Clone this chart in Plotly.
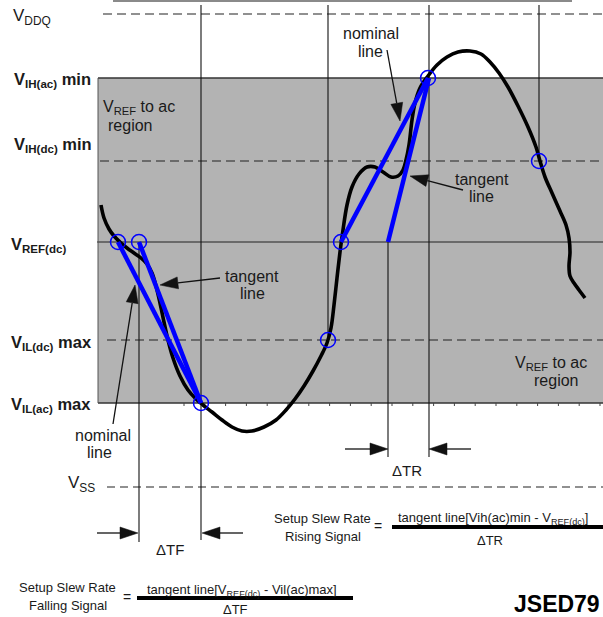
import math
import plotly.graph_objects as go

# ---- voltage levels (screen-space axis, top = 0) ----
V_DDQ = 14
V_IH_AC = 78
V_IH_DC = 161
V_REF = 242
V_IL_DC = 340
V_IL_AC = 403
V_SS = 487

# ---- input waveform (time, voltage) ----
wave_t = [101, 104, 109, 114, 120, 127, 134, 141, 147, 152, 156, 160, 164, 168, 173,
          180, 188, 196, 203, 212, 222, 232, 242, 252, 264, 276, 286, 295, 304, 313,
          321, 327, 331, 334, 337, 340, 343, 347, 352, 359, 367, 375, 383, 391, 398,
          403, 406, 409, 412, 415, 420, 428, 437, 447, 458, 470, 481, 490, 499, 508,
          518, 528, 536, 540, 545, 552, 560, 566, 569, 570, 569, 570, 574, 579, 585]
wave_v = [205, 218, 229, 236, 242, 248, 253, 258, 264, 273, 286, 303, 322, 340, 358,
          376, 390, 399, 405, 412, 420, 427, 431, 431, 427, 420, 410, 399, 386, 371,
          356, 343, 328, 305, 278, 252, 230, 205, 187, 174, 167, 167, 172, 177, 176,
          170, 160, 145, 120, 103, 88, 76, 65, 57, 52, 51, 54, 62, 73, 87,
          106, 127, 147, 161, 177, 193, 211, 225, 238, 252, 266, 276, 283, 290, 298]

# ---- slew-rate construction lines ----
fall_nominal_t = [118, 201]
fall_tangent_t = [139, 201]
rise_nominal_t = [341, 428]
rise_tangent_t = [388, 429]

# ---- level crossing points ----
cross_t = [118, 139, 201, 328, 341, 428, 539]
cross_v = [V_REF, V_REF, V_IL_AC, V_IL_DC, V_REF, V_IH_AC, V_IH_DC]

# ---- timing reference lines: (time, top, bottom) ----
timing_lines = [(139, V_REF, 542), (201, 5, 540), (328, 5, V_IL_DC),
                (388, V_REF, 457), (429, 5, 457), (539, 5, V_IH_DC)]

# ---- callout arrows: (tail_t, tail_v, tip_t, tip_v) ----
arrows = [(220, 278, 160, 285), (113, 424, 135, 285),
          (387, 50, 400, 121), (463, 190, 410, 176),
          (97, 533, 138, 533), (243, 533, 202, 533),
          (345, 449, 388, 449), (471, 449, 429, 449)]

FONT = "Liberation Sans, Arial, sans-serif"
INK = "#1a1a1a"
BLUE = "#0000ff"

fig = go.Figure()


def seg(xs, ys, color=INK, width=1.0, dash=None, shape="linear", fill=None, fillcolor=None):
    fig.add_trace(go.Scatter(x=xs, y=ys, mode="lines", hoverinfo="skip",
                             line=dict(color=color, width=width, dash=dash, shape=shape),
                             fill=fill, fillcolor=fillcolor, showlegend=False))


# VREF to ac region band
seg([98, 603, 603, 98, 98], [V_IH_AC, V_IH_AC, V_IL_AC, V_IL_AC, V_IH_AC],
    color="rgba(0,0,0,0)", width=0, fill="toself", fillcolor="#b3b3b3")

# top border line
seg([113, 572], [1, 1], color="#8a8a8a", width=2)

# level lines
seg([98, 603], [V_IH_AC, V_IH_AC], color="#333333", width=1.3)
seg([97, 603], [V_REF, V_REF], color="#222222", width=1.2)
seg([98, 603], [V_IL_AC, V_IL_AC], color="#333333", width=1.3)
seg([98, 98], [V_IH_AC, V_IL_AC], color="#555555", width=1)
seg([103, 603], [V_DDQ, V_DDQ], color="#222222", width=1.2, dash="9px,5px")
seg([100, 603], [V_IH_DC, V_IH_DC], color="#222222", width=1.2, dash="9px,5px")
seg([107, 603], [V_IL_DC, V_IL_DC], color="#222222", width=1.2, dash="9px,5px")
seg([107, 603], [V_SS, V_SS], color="#222222", width=1.2, dash="8px,5px")

# small ticks under the VIL(ac) edge
tick_x, tick_y = [], []
t = 184.0
while t < 603:
    tick_x += [t, t, None]
    tick_y += [V_IL_AC, V_IL_AC + 3, None]
    t += 20.8
seg(tick_x, tick_y, color="#444444", width=1)

# timing reference lines
vx, vy = [], []
for tt, top, bot in timing_lines:
    vx += [tt, tt, None]
    vy += [top, bot, None]
seg(vx, vy, color="#111111", width=1.1)

# waveform
seg(wave_t, wave_v, color="#000000", width=3.6, shape="spline")

# nominal / tangent lines
seg(fall_nominal_t, [V_REF, V_IL_AC], color=BLUE, width=4.5)
seg(fall_tangent_t, [V_REF, V_IL_AC], color=BLUE, width=4.5)
seg(rise_nominal_t, [V_REF, V_IH_AC], color=BLUE, width=4.5)
seg(rise_tangent_t, [V_REF, V_IH_AC], color=BLUE, width=4.5)

# crossing markers
fig.add_trace(go.Scatter(x=cross_t, y=cross_v, mode="markers", hoverinfo="skip",
                         showlegend=False,
                         marker=dict(symbol="circle-open", size=15, color=BLUE,
                                     line=dict(width=1.5, color=BLUE))))

# callout arrows with filled heads
HEAD_L, HEAD_W = 18, 6
shaft_x, shaft_y, head_x, head_y = [], [], [], []
for x0, y0, x1, y1 in arrows:
    dx, dy = x1 - x0, y1 - y0
    n = math.hypot(dx, dy)
    ux, uy = dx / n, dy / n
    bx, by = x1 - ux * HEAD_L, y1 - uy * HEAD_L
    px, py = -uy, ux
    shaft_x += [x0, bx, None]
    shaft_y += [y0, by, None]
    head_x += [x1, bx + px * HEAD_W, bx - px * HEAD_W, x1, None]
    head_y += [y1, by + py * HEAD_W, by - py * HEAD_W, y1, None]
seg(shaft_x, shaft_y, color="#111111", width=1.3)
seg(head_x, head_y, color="#111111", width=0.5, fill="toself", fillcolor="#111111")

# formula fraction bars
seg([392, 603], [527, 527], color="#000000", width=4)
seg([137, 353], [598, 598], color="#000000", width=4)

ann = []


def txt(x, y, s, size=16, anchor="left", color=INK):
    ann.append(dict(x=x, y=y, xref="x", yref="y", text=s, showarrow=False,
                    xanchor=anchor, yanchor="middle",
                    font=dict(family=FONT, size=size, color=color)))


# level labels
txt(11, 17, "V<sub>DDQ</sub>", 17)
txt(12, 80, "<b>V<sub>IH(ac)</sub> min</b>", 16.5)
txt(12, 145, "<b>V<sub>IH(dc)</sub> min</b>", 16.5)
txt(9, 245, "<b>V<sub>REF(dc)</sub></b>", 16.5)
txt(9, 343, "<b>V<sub>IL(dc)</sub> max</b>", 16.5)
txt(9, 405, "<b>V<sub>IL(ac)</sub> max</b>", 16.5)
txt(66, 484, "V<sub>SS</sub>", 17)

# region labels
txt(101, 107, "V<sub>REF</sub> to ac", 16)
txt(106, 125, "region", 16)
txt(551, 363, "V<sub>REF</sub> to ac", 16, "center")
txt(556, 380, "region", 16, "center")

# callout labels
txt(252, 276, "tangent", 16, "center")
txt(252, 293, "line", 16, "center")
txt(103, 435, "nominal", 16, "center")
txt(99, 452, "line", 16, "center")
txt(371, 33, "nominal", 16, "center")
txt(370, 51, "line", 16, "center")
txt(482, 179, "tangent", 16, "center")
txt(481, 196, "line", 16, "center")

# interval labels
txt(170, 549, "\u0394TF", 15, "center")
txt(407, 470, "\u0394TR", 15, "center")

# slew rate formulas
txt(322, 518, "Setup Slew Rate", 13, "center")
txt(323, 536, "Rising Signal", 13, "center")
txt(378, 526, "=", 14, "center")
txt(493, 518, "tangent line[Vih(ac)min - V<sub>REF(dc)</sub>]", 13, "center")
txt(490, 540, "\u0394TR", 13, "center")

txt(67, 587, "Setup Slew Rate", 13, "center")
txt(68, 605, "Falling Signal", 13, "center")
txt(127, 597, "=", 14, "center")
txt(242, 590, "tangent line[V<sub>REF(dc)</sub> - Vil(ac)max]", 13, "center")
txt(235, 609, "\u0394TF", 13, "center")

txt(512, 604, "<b>JSED79</b>", 23, "left", "#000000")

fig.update_layout(
    width=603, height=617,
    margin=dict(l=0, r=0, t=0, b=0),
    paper_bgcolor="white", plot_bgcolor="white",
    xaxis=dict(range=[0, 603], visible=False, fixedrange=True),
    yaxis=dict(range=[617, 0], visible=False, fixedrange=True),
    annotations=ann,
    showlegend=False,
)

fig.write_html("out.html")
